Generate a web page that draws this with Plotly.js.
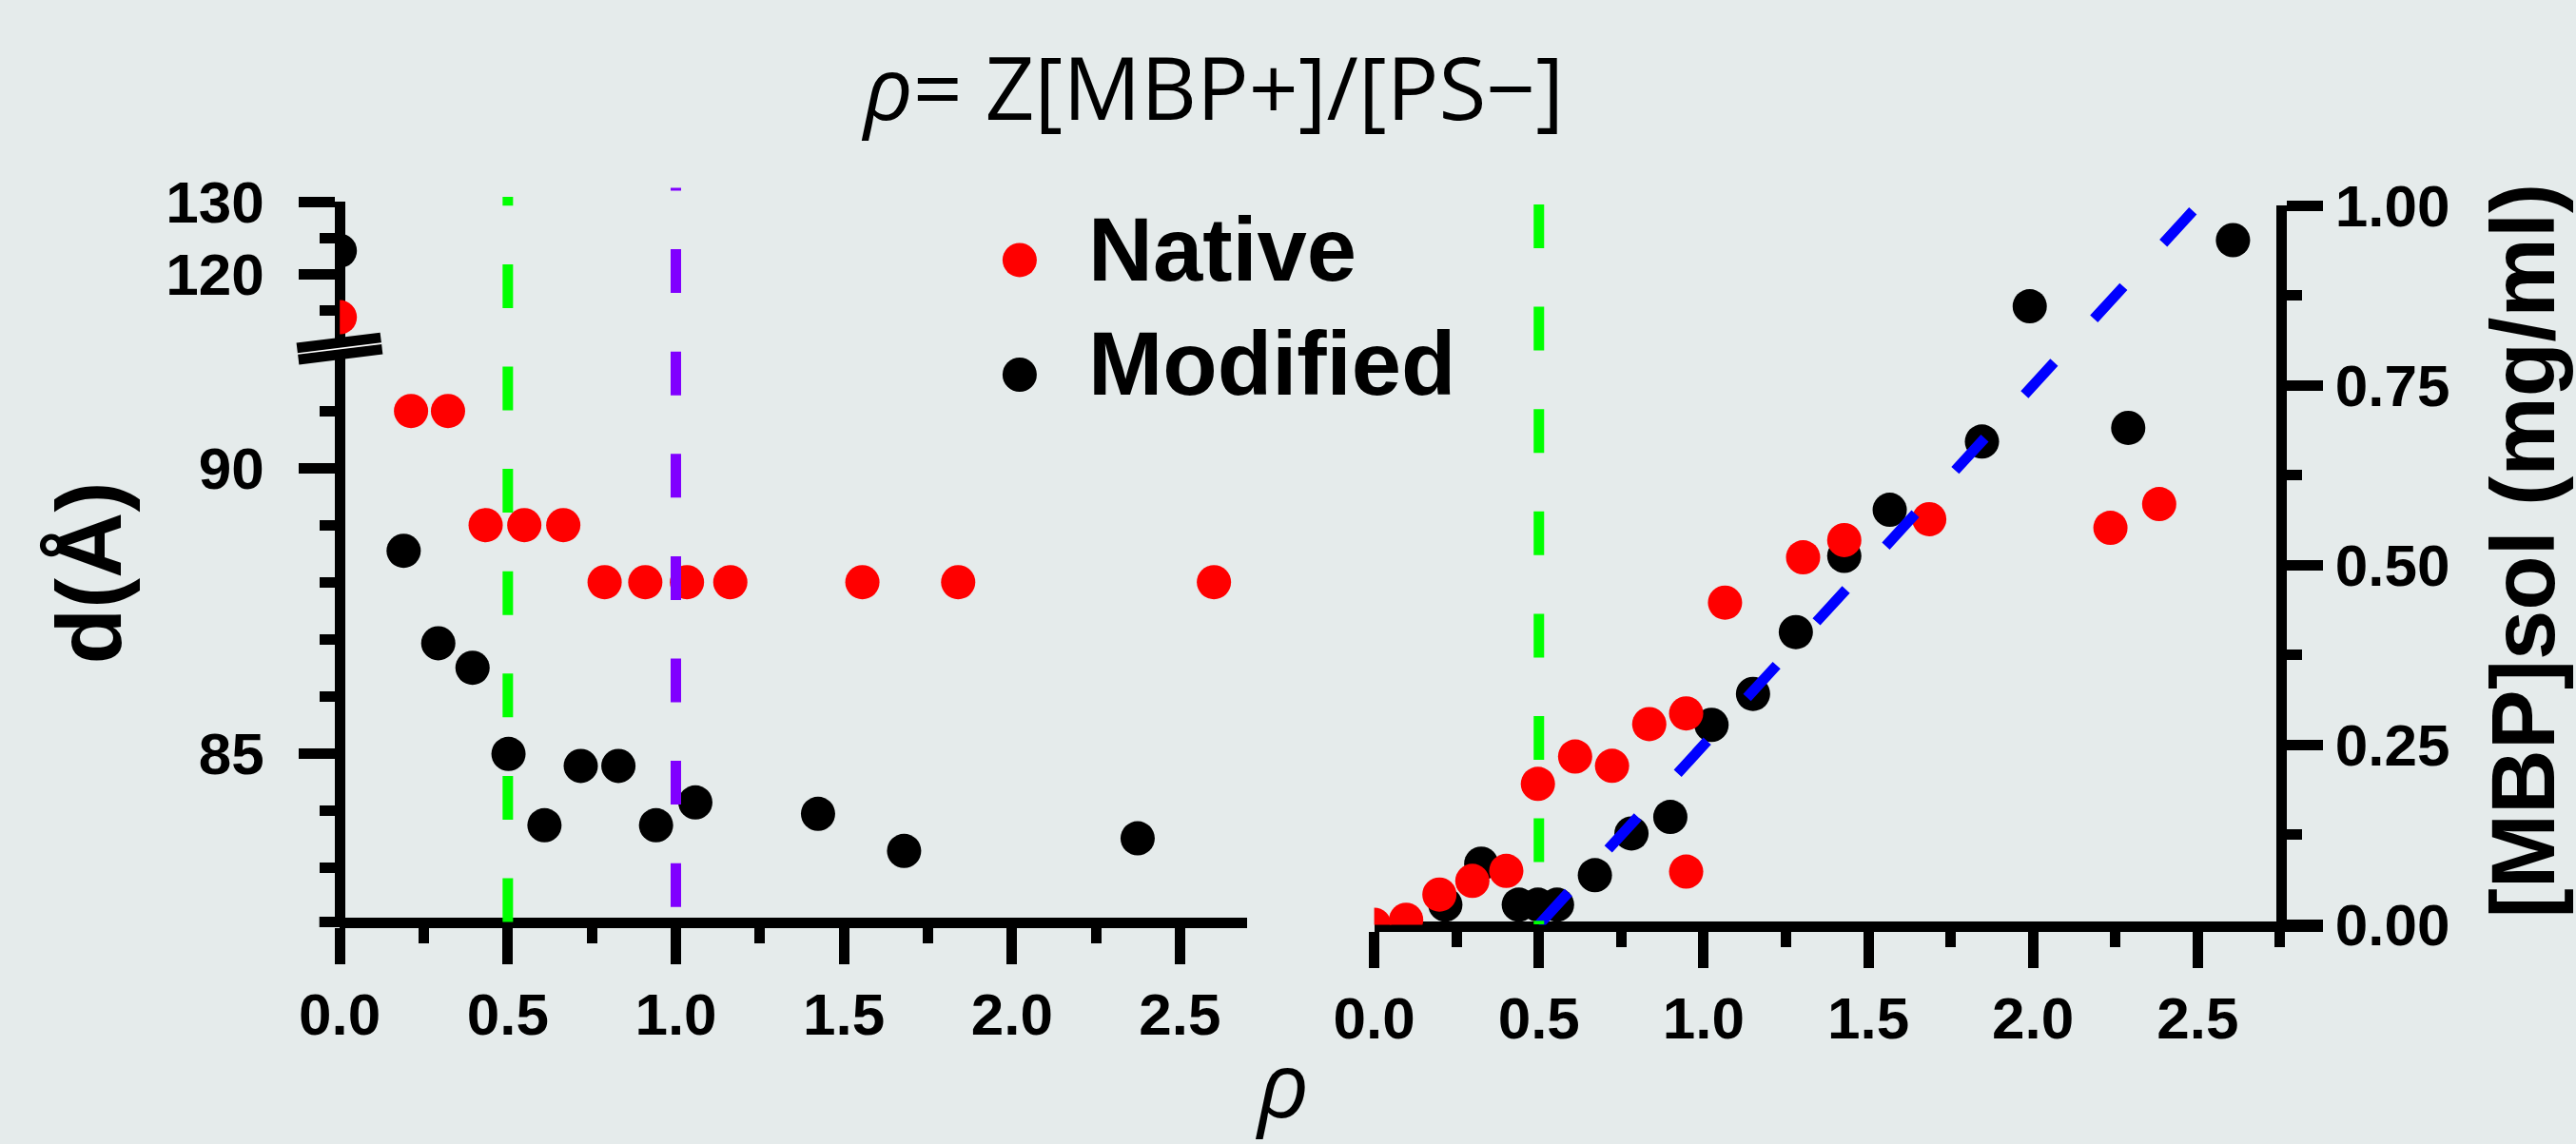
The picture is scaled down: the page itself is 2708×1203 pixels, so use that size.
<!DOCTYPE html>
<html>
<head>
<meta charset="utf-8">
<script src="https://cdn.plot.ly/plotly-3.0.1.min.js"></script>
<style>
  html, body { margin: 0; padding: 0; background: #e5ebeb; }
  #chart { width: 2708px; height: 1203px; }
</style>
</head>
<body>
<div id="chart"></div>
<script>
// ---------------- data ----------------
// Left panel: d-spacing (Å) vs rho
const leftNativeRho   = [0.0, 0.212, 0.322, 0.434, 0.549, 0.665, 0.788, 0.909, 1.033, 1.162, 1.555, 1.840, 2.601];
const leftNativeD     = [114.0, 91.0, 91.0, 89.0, 89.0, 89.0, 88.0, 88.0, 88.0, 88.0, 88.0, 88.0, 88.0];
const leftModifiedRho = [0.0, 0.190, 0.293, 0.395, 0.502, 0.609, 0.717, 0.829, 0.941, 1.058, 1.423, 1.679, 2.374];
const leftModifiedD   = [123.2, 88.55, 86.93, 86.50, 84.99, 83.74, 84.78, 84.78, 83.74, 84.14, 83.94, 83.29, 83.51];

// Right panel: [MBP]sol (mg/ml) vs rho
const rightNativeRho   = [0.0, 0.097, 0.198, 0.298, 0.401, 0.497, 0.610, 0.722, 0.835, 0.947, 0.947, 1.065, 1.302, 1.427, 1.685, 2.235, 2.383];
const rightNativeSol   = [0.0, 0.007, 0.042, 0.061, 0.075, 0.196, 0.234, 0.221, 0.279, 0.294, 0.074, 0.448, 0.511, 0.535, 0.564, 0.552, 0.585];
const rightModifiedRho = [0.216, 0.325, 0.439, 0.497, 0.555, 0.670, 0.781, 0.899, 1.024, 1.150, 1.280, 1.427, 1.565, 1.845, 1.990, 2.289, 2.607];
const rightModifiedSol = [0.028, 0.085, 0.028, 0.028, 0.028, 0.069, 0.127, 0.150, 0.278, 0.321, 0.407, 0.513, 0.577, 0.672, 0.860, 0.691, 0.952];

// Linear fit line (right panel)
const fitRho = [0.5, 2.5];
const fitSol = [0.0, 1.0];

// Vertical reference lines
const leftVLines  = [{rho: 0.5, color: '#00ff00'}, {rho: 1.0, color: '#8000ff'}];
const rightVLines = [{rho: 0.5, color: '#00ff00'}];

// Series names / colours
const seriesNames  = ['Native', 'Modified'];
const seriesColors = ['#ff0000', '#000000'];

// Tick values
const xTicks = [0, 0.5, 1.0, 1.5, 2.0, 2.5];
const lowerDTicks = [85, 90];
const lowerDMinor = [83, 84, 86, 87, 88, 89, 91];
const upperDTicks = [120, 130];
const upperDMinor = [115, 125];
const solTicks = [0, 0.25, 0.5, 0.75, 1.0];

const titleText  = '<i>ρ</i>= Z[MBP+]/[PS−]';
const xTitleText = 'ρ';
const yLeftTitle = 'd(Å)';
const yRightTitle = '[MBP]sol (mg/ml)';

// ---------------- layout helpers ----------------
const W = 2708, H = 1203;
const fx = px => px / W;
const fy = py => 1 - py / H;
const BG = '#e5ebeb';
const BOLD = 'Liberation Sans, Arial, sans-serif';
const THIN = 'Open Sans, sans-serif';

const BREAK = 100; // values above go on the upper (broken) segment
function split(xs, ys, upper) {
  const ox = [], oy = [];
  xs.forEach((v, i) => { if ((ys[i] > BREAK) === upper) { ox.push(v); oy.push(ys[i]); } });
  return {x: ox, y: oy};
}

const MS = 36;
const traces = [];
// modified (black) first, native (red) on top
[[leftModifiedRho, leftModifiedD, 1], [leftNativeRho, leftNativeD, 0]].forEach(([xs, ys, k]) => {
  const lo = split(xs, ys, false), hi = split(xs, ys, true);
  traces.push({x: lo.x, y: lo.y, xaxis: 'x', yaxis: 'y', type: 'scatter', mode: 'markers', name: seriesNames[k],
    showlegend: false, cliponaxis: true, marker: {size: MS, color: seriesColors[k], line: {width: 0}}});
  traces.push({x: hi.x, y: hi.y, xaxis: 'x', yaxis: 'y2', type: 'scatter', mode: 'markers', name: seriesNames[k],
    showlegend: false, cliponaxis: true, marker: {size: MS, color: seriesColors[k], line: {width: 0}}});
});
traces.push({x: rightModifiedRho, y: rightModifiedSol, xaxis: 'x2', yaxis: 'y3', type: 'scatter', mode: 'markers',
  name: seriesNames[1], showlegend: false, cliponaxis: true, marker: {size: MS, color: seriesColors[1], line: {width: 0}}});
traces.push({x: rightNativeRho, y: rightNativeSol, xaxis: 'x2', yaxis: 'y3', type: 'scatter', mode: 'markers',
  name: seriesNames[0], showlegend: false, cliponaxis: true, marker: {size: MS, color: seriesColors[0], line: {width: 0}}});
traces.push({x: fitRho, y: fitSol, xaxis: 'x2', yaxis: 'y3', type: 'scatter', mode: 'lines', showlegend: false,
  cliponaxis: false, line: {color: '#0000ff', width: 11, dash: '46px,62px'}});

// geometry (pixels)
const LX0 = 357.2, LXU = 353.3, LXMAX = 2.7;        // left x axis
const LAX_Y = 969.5;                                  // left x axis line
const BRK_Y = 366;                                    // break position
const LOW_RANGE = [82.045, 92.103];
const UP_RANGE = [109.74, 130];
const UP_TOP = 212;
const RX0 = 1444.6, RXU = 346.3, RXMAX = 2.88;        // right x axis
const RAX_Y = 974;
const RY0 = 972.5, RY1 = 216.2;
const RYAX_X = 2398.3;

const tickFont = {family: BOLD, size: 62, color: '#000', weight: 'bold'};
const common = {showgrid: false, zeroline: false, showline: true, linecolor: '#000', linewidth: 11,
  ticks: 'outside', tickcolor: '#000', tickwidth: 11, ticklen: 38, tickfont: tickFont, layer: 'below traces',
  fixedrange: true};

const layout = {
  width: W, height: H,
  paper_bgcolor: BG, plot_bgcolor: 'rgba(0,0,0,0)',
  margin: {l: 0, r: 0, t: 0, b: 0, pad: 0},
  showlegend: false,
  title: {text: titleText, font: {family: THIN, size: 91, color: '#000'}, x: fx(1276), xanchor: 'center',
    xref: 'paper', yref: 'paper', y: fy(94), yanchor: 'middle'},
  xaxis: Object.assign({}, common, {domain: [fx(LX0), fx(LX0 + LXMAX * LXU)], range: [0, LXMAX],
    anchor: 'free', position: fy(LAX_Y), tickmode: 'array', tickvals: xTicks, ticktext: xTicks.map(v => v.toFixed(1)),
    minor: {tickvals: xTicks.map(v => v + 0.25), ticks: 'outside', ticklen: 16, tickwidth: 11, tickcolor: '#000'}}),
  yaxis: Object.assign({}, common, {domain: [fy(LAX_Y), fy(BRK_Y)], range: LOW_RANGE, ticklabelstandoff: 24,
    anchor: 'free', position: fx(LX0), tickmode: 'array', tickvals: lowerDTicks, ticktext: lowerDTicks.map(String),
    minor: {tickvals: lowerDMinor, ticks: 'outside', ticklen: 16, tickwidth: 11, tickcolor: '#000'}}),
  yaxis2: Object.assign({}, common, {domain: [fy(BRK_Y), fy(UP_TOP)], range: UP_RANGE, ticklabelstandoff: 24,
    anchor: 'free', position: fx(LX0), tickmode: 'array', tickvals: upperDTicks, ticktext: upperDTicks.map(String),
    minor: {tickvals: upperDMinor, ticks: 'outside', ticklen: 16, tickwidth: 11, tickcolor: '#000'}}),
  xaxis2: Object.assign({}, common, {domain: [fx(RX0), fx(RX0 + RXMAX * RXU)], range: [0, RXMAX],
    anchor: 'free', position: fy(RAX_Y), tickmode: 'array', tickvals: xTicks, ticktext: xTicks.map(v => v.toFixed(1)),
    minor: {tickvals: xTicks.map(v => v + 0.25), ticks: 'outside', ticklen: 16, tickwidth: 11, tickcolor: '#000'}}),
  yaxis3: Object.assign({}, common, {domain: [fy(RY0), fy(RY1)], range: [0, 1], side: 'right',
    anchor: 'free', position: fx(RYAX_X), tickmode: 'array', tickvals: solTicks, ticktext: solTicks.map(v => v.toFixed(2)),
    minor: {tickvals: solTicks.slice(0, -1).map(v => v + 0.125), ticks: 'outside', ticklen: 16, tickwidth: 11, tickcolor: '#000'}}),
  shapes: [],
  annotations: []
};

// vertical reference lines (drawn bottom->top on the left, top->bottom on the right)
leftVLines.forEach((l, i) => {
  const yb = i === 0 ? LAX_Y : 953.7, yt = i === 0 ? 207 : 197.6;
  layout.shapes.push({type: 'line', xref: 'x', yref: 'paper', x0: l.rho, x1: l.rho, y0: fy(yb), y1: fy(yt),
    line: {color: l.color, width: 11, dash: '46px,61.6px'}});
});
rightVLines.forEach(l => {
  layout.shapes.push({type: 'line', xref: 'x2', yref: 'paper', x0: l.rho, x1: l.rho, y0: fy(215), y1: fy(RAX_Y - 2),
    line: {color: l.color, width: 11, dash: '46px,61.6px'}});
});
// x axis line extension left of the y axis
layout.shapes.push({type: 'line', xref: 'paper', yref: 'paper', x0: fx(335.7), x1: fx(LX0), y0: fy(LAX_Y), y1: fy(LAX_Y),
  line: {color: '#000', width: 11}});
// axis break marks
layout.shapes.push({type: 'line', xref: 'paper', yref: 'paper', x0: fx(313), x1: fx(401), y0: fy(372), y1: fy(361.1),
  line: {color: '#000', width: 23}});
layout.shapes.push({type: 'line', xref: 'paper', yref: 'paper', x0: fx(313), x1: fx(401), y0: fy(372), y1: fy(361.1),
  line: {color: '#ffffff', width: 1.6}});

// legend (drawn by hand so the symbols keep the marker size)
const legendY = [273.4, 394];
const legendTextY = [262, 382.5];
seriesNames.forEach((n, k) => {
  layout.shapes.push({type: 'circle', xref: 'paper', yref: 'paper', x0: fx(1071.9 - MS / 2), x1: fx(1071.9 + MS / 2),
    y0: fy(legendY[k] + MS / 2), y1: fy(legendY[k] - MS / 2), fillcolor: seriesColors[k], line: {width: 0}});
  layout.annotations.push({text: n, xref: 'paper', yref: 'paper', x: fx(1142), y: fy(legendTextY[k]),
    xanchor: 'left', yanchor: 'middle', showarrow: false, font: {family: BOLD, size: 94, color: '#000', weight: 'bold'}});
});

// axis titles
layout.annotations.push({text: xTitleText, xref: 'paper', yref: 'paper', x: fx(1347), y: fy(1138),
  xanchor: 'center', yanchor: 'middle', showarrow: false, font: {family: THIN, size: 95, color: '#000', style: 'italic'}});
layout.annotations.push({text: yLeftTitle, xref: 'paper', yref: 'paper', x: fx(92.5), y: fy(603), textangle: -90,
  xanchor: 'center', yanchor: 'middle', showarrow: false, font: {family: BOLD, size: 96, color: '#000', weight: 'bold'}});
layout.annotations.push({text: yRightTitle, xref: 'paper', yref: 'paper', x: fx(2652), y: fy(579.5), textangle: -90,
  xanchor: 'center', yanchor: 'middle', showarrow: false, font: {family: BOLD, size: 94, color: '#000', weight: 'bold'}});

Plotly.newPlot('chart', traces, layout, {staticPlot: true, displayModeBar: false});
</script>
</body>
</html>
